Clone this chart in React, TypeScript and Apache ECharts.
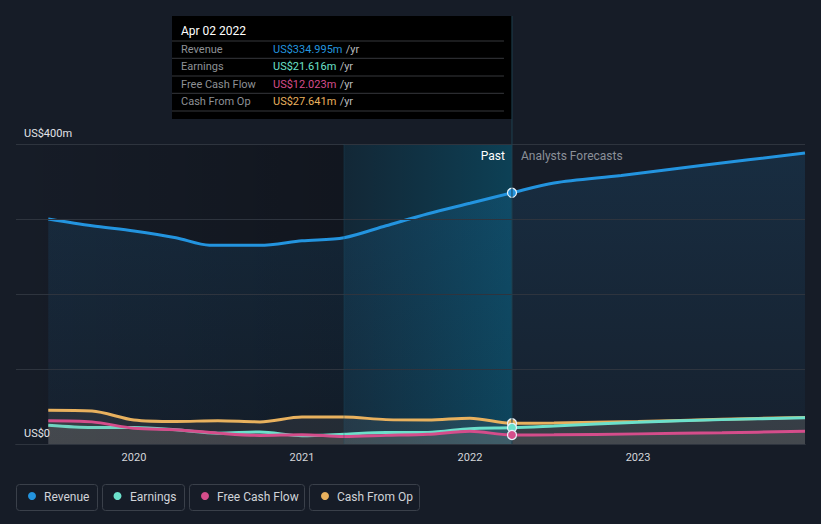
import React, { useEffect, useRef } from "react";
import * as echarts from "echarts";

// ---- data (x = decimal year) ----
const revenueDates = [2019.49, 2019.75, 2020.0, 2020.25, 2020.45, 2020.75, 2021.0, 2021.25, 2021.5, 2021.75, 2022.0, 2022.25, 2022.5, 2022.9, 2023.4, 2023.994];
const revenue = [300, 291, 284, 275, 265, 265, 271, 275, 291, 307, 321, 334.995, 348, 358, 372, 388];

const otherDates = [2019.49, 2019.75, 2020.0, 2020.25, 2020.5, 2020.75, 2021.0, 2021.25, 2021.5, 2021.75, 2022.0, 2022.25, 2022.5, 2023.0, 2023.5, 2023.994];
const earnings = [25, 22, 22, 19, 14.5, 16, 11, 13, 15.5, 15.5, 20.5, 21.616, 24, 29, 32.5, 35];
const freeCashFlow = [31, 29.5, 21, 19, 14.5, 11.5, 12.5, 10, 11.5, 13, 17, 12.023, 12.2, 13.5, 15, 17];
const cashFromOp = [45, 44, 32, 30, 31, 29.5, 36, 36, 32.5, 32, 34.5, 27.641, 28, 30, 33, 35.5];

const xTickValues = [2020, 2021, 2022, 2023];
const yTickLabels: Record<number, string> = { 0: "US$0", 400: "US$400m" };

const hoverDate = 2022.25;
const hoverLabel = "Apr 02 2022";
const highlightStart = 2021.25;
const axisMin = 2019.298;
const axisMax = 2023.994;

const seriesNames = ["Revenue", "Earnings", "Free Cash Flow", "Cash From Op"];
const seriesColors = ["#2394df", "#6ce0cb", "#d54d8b", "#e8b15e"];

const FONT = "Roboto, 'Noto Sans', sans-serif";

function pairs(xs: number[], ys: number[]) {
  return xs.map((x, i) => [x, ys[i]]);
}
function valueAt(xs: number[], ys: number[], x: number) {
  const i = xs.indexOf(x);
  return ys[i];
}

export default function App() {
  const ref = useRef<HTMLDivElement>(null);
  useEffect(() => {
    document.body.style.margin = "0";
    document.body.style.background = "#161c27";
    const chart = echarts.init(ref.current!, undefined, { renderer: "svg" });

    const smallArea = { color: "rgba(150,142,132,0.2)" };
    const allX = [revenueDates, otherDates, otherDates, otherDates];
    const allY = [revenue, earnings, freeCashFlow, cashFromOp];

    const mkSeries = (idx: number, z: number, width: number, area: any) => ({
      name: seriesNames[idx],
      type: "line",
      z,
      smooth: 0.3,
      symbol: "none",
      data: pairs(allX[idx], allY[idx]),
      lineStyle: { color: seriesColors[idx], width },
      itemStyle: { color: seriesColors[idx] },
      areaStyle: area,
    });

    const markerSeries = [0, 3, 1, 2].map((idx, k) => ({
      type: "scatter",
      z: 8 + k,
      silent: true,
      symbol: "circle",
      symbolSize: 9,
      itemStyle: { color: seriesColors[idx], borderColor: "#e8f2fa", borderWidth: 1.2, opacity: 1 },
      data: [[hoverDate, valueAt(allX[idx], allY[idx], hoverDate)]],
    }));

    chart.setOption({
      animation: false,
      backgroundColor: "#161c27",
      textStyle: { fontFamily: FONT },
      grid: { left: 16, right: 16, top: 144, bottom: 80 },
      xAxis: {
        type: "value",
        min: axisMin,
        max: axisMax,
        axisLine: { show: true, lineStyle: { color: "#41464f", width: 1 } },
        axisTick: { show: false },
        splitLine: { show: false },
        axisLabel: {
          customValues: xTickValues,
          formatter: (v: number) => String(Math.round(v)),
          color: "#d4d6da",
          fontSize: 11,
          margin: 8,
          fontFamily: FONT,
        },
      },
      yAxis: {
        type: "value",
        min: 0,
        max: 400,
        interval: 100,
        axisLine: { show: false },
        axisTick: { show: false },
        splitLine: { show: true, lineStyle: { color: "#2e343e", width: 1 } },
        axisLabel: {
          inside: true,
          margin: 8,
          verticalAlign: "bottom",
          padding: [0, 0, 5, 0],
          color: "#e2e4e8",
          fontSize: 11,
          fontFamily: FONT,
          formatter: (v: number) => yTickLabels[v] ?? "",
        },
        z: 5,
      },
      series: [
        {
          type: "line",
          data: [],
          z: 1,
          silent: true,
          markArea: {
            silent: true,
            data: [
              [
                {
                  xAxis: axisMin,
                  itemStyle: {
                    color: new echarts.graphic.LinearGradient(0, 0, 1, 0, [
                      { offset: 0, color: "rgba(0,0,0,0)" },
                      { offset: 1, color: "rgba(0,0,0,0.22)" },
                    ]),
                  },
                },
                { xAxis: highlightStart },
              ],
              [
                {
                  xAxis: highlightStart,
                  itemStyle: {
                    color: new echarts.graphic.LinearGradient(0, 0, 1, 0, [
                      { offset: 0, color: "rgba(0,100,135,0.16)" },
                      { offset: 1, color: "rgba(0,115,150,0.42)" },
                    ]),
                  },
                },
                { xAxis: hoverDate },
              ],
            ],
          },
        },
        mkSeries(0, 2, 3, {
          color: new echarts.graphic.LinearGradient(0, 0, 0, 1, [
            { offset: 0, color: "rgba(35,148,223,0.2)" },
            { offset: 1, color: "rgba(35,148,223,0.06)" },
          ]),
        }),
        mkSeries(3, 3, 3, smallArea),
        mkSeries(1, 4, 3, smallArea),
        mkSeries(2, 5, 3, smallArea),
        ...markerSeries,
      ],
    });

    const lineX = chart.convertToPixel({ xAxisIndex: 0 }, hoverDate) as number;
    const startX = chart.convertToPixel({ xAxisIndex: 0 }, highlightStart) as number;
    const baseY = chart.convertToPixel({ yAxisIndex: 0 }, 0) as number;
    const topY = chart.convertToPixel({ yAxisIndex: 0 }, 400) as number;

    const tipX = 172;
    const tipY = 16;
    const tipW = lineX - tipX;
    const rowYs = [49, 66.5, 84, 101.5];
    const sepYs = [41, 58.3, 76, 93.3, 111];
    const tipChildren: any[] = [
      { type: "rect", shape: { x: tipX, y: tipY, width: tipW, height: 103 }, style: { fill: "#000000" } },
      {
        type: "text",
        x: 181,
        y: 31,
        style: { text: hoverLabel, fill: "#ffffff", font: `12px ${FONT}`, verticalAlign: "middle" },
      },
    ];
    sepYs.forEach((y) =>
      tipChildren.push({
        type: "line",
        shape: { x1: tipX, y1: y, x2: tipX + tipW - 8, y2: y },
        style: { stroke: "#36383c", lineWidth: 1 },
      })
    );
    [0, 1, 2, 3].forEach((i) => {
      const v = valueAt(allX[i], allY[i], hoverDate);
      tipChildren.push({
        type: "text",
        x: 181,
        y: rowYs[i],
        style: { text: seriesNames[i], fill: "#8e9196", font: `11px ${FONT}`, verticalAlign: "middle" },
      });
      tipChildren.push({
        type: "text",
        x: 273,
        y: rowYs[i],
        style: {
          text: `{v|US$${v.toFixed(3)}m} {u|/yr}`,
          verticalAlign: "middle",
          rich: {
            v: { fill: seriesColors[i], font: `11px ${FONT}` },
            u: { fill: "#b8babe", font: `11px ${FONT}` },
          },
        },
      });
    });

    const legendBoxes = [
      { x: 16.5, w: 81, cx: 32, tx: 44 },
      { x: 102.5, w: 82, cx: 117.5, tx: 130 },
      { x: 189.5, w: 115, cx: 205, tx: 217 },
      { x: 309.5, w: 110, cx: 325, tx: 337 },
    ];
    const legendChildren: any[] = [];
    legendBoxes.forEach((b, i) => {
      legendChildren.push({
        type: "rect",
        shape: { x: b.x, y: 484.5, width: b.w, height: 26, r: 3 },
        style: { fill: "transparent", stroke: "#3a404a", lineWidth: 1 },
      });
      legendChildren.push({
        type: "circle",
        shape: { cx: b.cx, cy: 496, r: 4 },
        style: { fill: seriesColors[i] },
      });
      legendChildren.push({
        type: "text",
        x: b.tx,
        y: 496.5,
        style: { text: seriesNames[i], fill: "#d0d3d8", font: `12px ${FONT}`, verticalAlign: "middle" },
      });
    });

    chart.setOption({
      graphic: [
        {
          type: "line",
          z: 10,
          shape: { x1: lineX, y1: tipY, x2: lineX, y2: baseY },
          style: { stroke: "#1e4150", lineWidth: 1 },
        },
        {
          type: "line",
          z: 10,
          shape: { x1: startX, y1: topY, x2: startX, y2: baseY },
          style: { stroke: "rgba(30,80,95,0.35)", lineWidth: 1 },
        },
        { type: "group", z: 20, children: tipChildren },
        {
          type: "text",
          z: 20,
          x: lineX - 7,
          y: 156,
          style: { text: "Past", fill: "#ffffff", font: `12px ${FONT}`, align: "right", verticalAlign: "middle" },
        },
        {
          type: "text",
          z: 20,
          x: lineX + 9,
          y: 156,
          style: { text: "Analysts Forecasts", fill: "#8b9099", font: `12px ${FONT}`, align: "left", verticalAlign: "middle" },
        },
        { type: "group", z: 20, children: legendChildren },
      ],
    });

    return () => chart.dispose();
  }, []);

  return <div ref={ref} style={{ width: 821, height: 524, background: "#161c27" }} />;
}
